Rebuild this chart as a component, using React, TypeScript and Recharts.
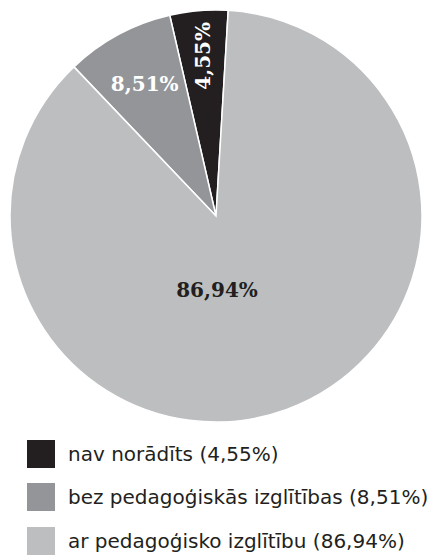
import React from 'react';
import { PieChart, Pie, Cell, Legend } from 'recharts';

// kategorijas un vērtības (%)
const categories = ['nav norādīts', 'bez pedagoģiskās izglītības', 'ar pedagoģisko izglītību'];
const values = [4.55, 8.51, 86.94];
const valueLabels = ['4,55%', '8,51%', '86,94%'];
const colors = ['#231f20', '#939598', '#bcbec0'];

const chartData = categories.map((name, i) => ({ name, value: values[i], label: valueLabels[i] }));

const RAD = Math.PI / 180;

// etiķešu izvietojums katram sektoram
const renderLabel = (props: any) => {
  const { cx, cy, midAngle, index, outerRadius } = props;
  const item = chartData[index];
  const font = { fontFamily: '"DejaVu Serif", serif', fontWeight: 700, fontSize: 20 };
  if (index === 0) {
    const r = outerRadius * 0.78;
    const x = cx + r * Math.cos(-midAngle * RAD);
    const y = cy + r * Math.sin(-midAngle * RAD);
    return (
      <text x={x} y={y} fill="#ffffff" textAnchor="middle" dominantBaseline="central"
        transform={`rotate(-90 ${x} ${y})`} style={font}>
        {item.label}
      </text>
    );
  }
  if (index === 1) {
    const r = outerRadius * 0.73;
    const x = cx + r * Math.cos(-midAngle * RAD);
    const y = cy + r * Math.sin(-midAngle * RAD);
    return (
      <text x={x} y={y} fill="#ffffff" textAnchor="middle" dominantBaseline="central" style={font}>
        {item.label}
      </text>
    );
  }
  return (
    <text x={cx + 1} y={cy + outerRadius * 0.36} fill="#231f20" textAnchor="middle"
      dominantBaseline="central" style={font}>
      {item.label}
    </text>
  );
};

const CustomLegend = () => (
  <ul style={{ listStyle: 'none', margin: 0, padding: 0 }}>
    {chartData.map((entry, i) => (
      <li key={`legend-${i}`} style={{ display: 'flex', alignItems: 'center', height: 43.5 }}>
        <div style={{ width: 28, height: 28, background: colors[i], marginRight: 13, flexShrink: 0 }} />
        <span style={{ fontFamily: '"DejaVu Sans", sans-serif', fontSize: 20, color: '#231f20', whiteSpace: 'nowrap' }}>
          {entry.name} ({entry.label})
        </span>
      </li>
    ))}
  </ul>
);

export default function App() {
  return (
    <div style={{ position: 'absolute', top: 0, left: 0, width: 437, height: 559, background: '#fff' }}>
      <PieChart width={437} height={559} margin={{ top: 0, right: 0, bottom: 0, left: 0 }}>
        <Pie
          data={chartData}
          dataKey="value"
          nameKey="name"
          cx={216}
          cy={216}
          outerRadius={206}
          startAngle={86.6}
          endAngle={446.6}
          stroke="#ffffff"
          strokeWidth={1.5}
          labelLine={false}
          label={renderLabel}
          isAnimationActive={false}
        >
          {chartData.map((entry, i) => (
            <Cell key={`cell-${i}`} fill={colors[i]} />
          ))}
        </Pie>
        <Legend
          content={<CustomLegend />}
          wrapperStyle={{ position: 'absolute', top: 432, left: 27, width: 410 }}
        />
      </PieChart>
    </div>
  );
}
